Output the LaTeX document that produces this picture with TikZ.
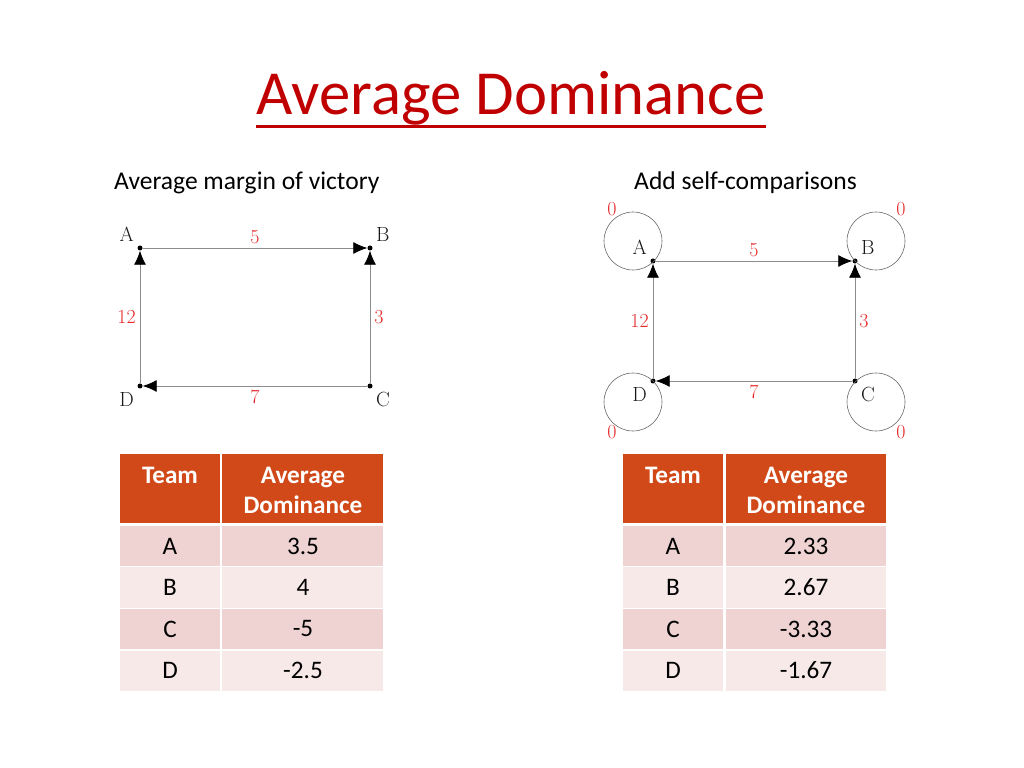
\documentclass[tikz,border=0pt]{standalone}
\usepackage{fontspec}
\newfontfamily\slidefont{Carlito}
\usetikzlibrary{arrows.meta,positioning,calc}
\definecolor{slidered}{RGB}{192,0,0}
\definecolor{hdrorange}{RGB}{209,73,24}
\definecolor{rowdark}{RGB}{239,211,211}
\definecolor{rowlight}{RGB}{246,233,232}
\definecolor{wtred}{RGB}{230,40,40}
\definecolor{edgegray}{RGB}{140,140,140}

\begin{document}
\begin{tikzpicture}[x=0.03cm, y=-0.03cm,
    title/.style={font=\slidefont\fontsize{53.5}{60}\selectfont, text=slidered, inner sep=0pt},
    sub/.style={font=\slidefont\fontsize{21.8}{24}\selectfont, inner sep=0pt, anchor=west},
    vtx/.style={circle, fill=black, inner sep=0pt, minimum size=0.15cm},
    vlbl/.style={font=\fontsize{17.5}{17.5}\selectfont, text=black!90},
    wlbl/.style={font=\fontsize{17}{17}\selectfont, text=wtred},
    edge/.style={draw=edgegray, line width=0.7pt, -{Latex[length=0.42cm,width=0.36cm,color=black]}},
    selfloop/.style={draw=black!60, line width=0.5pt},
    hdr/.style={font=\slidefont\bfseries\fontsize{21.5}{25.5}\selectfont, text=white, align=center},
    cell/.style={font=\slidefont\fontsize{21.5}{26}\selectfont}
  ]
  \useasboundingbox (0,0) rectangle (1024,768);

  % Title and subtitles
  \node[title] (ttl) at (511,98) {Average Dominance};
  \draw[slidered, line width=0.09cm] ($(ttl.south west)+(0,1)$) -- ($(ttl.south east)+(0,1)$);
  \node[sub] (subL) at (114,183) {Average margin of victory};
  \node[sub] (subR) at (634,183) {Add self-comparisons};

  % Left graph
  \node[vtx, label={[vlbl]135:A}] (lA) at (140,248) {};
  \node[vtx, label={[vlbl]45:B}]  (lB) at (370,248) {};
  \node[vtx, label={[vlbl]-45:C}] (lC) at (370,386) {};
  \node[vtx, label={[vlbl]225:D}] (lD) at (140,386) {};
  \draw[edge] (lA) -- node[wlbl, above] {5} (lB);
  \draw[edge] (lC) -- node[wlbl, right] {3} (lB);
  \draw[edge] (lD) -- node[wlbl, left] {12} (lA);
  \draw[edge] (lC) -- node[wlbl, below] {7} (lD);

  % Right graph with self-comparisons
  \node[vtx, label={[vlbl]135:A}] (rA) at (653,261) {};
  \node[vtx, label={[vlbl]45:B}]  (rB) at (855,261) {};
  \node[vtx, label={[vlbl]-45:C}] (rC) at (855,381) {};
  \node[vtx, label={[vlbl]225:D}] (rD) at (653,381) {};
  \draw[edge] (rA) -- node[wlbl, above] {5} (rB);
  \draw[edge] (rC) -- node[wlbl, right] {3} (rB);
  \draw[edge] (rD) -- node[wlbl, left] {12} (rA);
  \draw[edge] (rC) -- node[wlbl, below] {7} (rD);
  \draw[selfloop] ($(rA)+(-20,-20)$) circle[radius=0.87cm];
  \draw[selfloop] ($(rB)+(21,-20)$) circle[radius=0.87cm];
  \draw[selfloop] ($(rC)+(21,21)$) circle[radius=0.87cm];
  \draw[selfloop] ($(rD)+(-20,21)$) circle[radius=0.87cm];
  \node[wlbl] (zA) at ($(rA)+(-41,-52)$) {0};
  \node[wlbl] (zB) at ($(rB)+(46,-52)$) {0};
  \node[wlbl] (zC) at ($(rC)+(46,51)$) {0};
  \node[wlbl] (zD) at ($(rD)+(-41,51)$) {0};

  % Left table
  \fill[hdrorange] (120,454) rectangle (220,523);
  \fill[hdrorange] (222,454) rectangle (383,523);
  \node[hdr] (lhT) at (170,475) {Team};
  \node[hdr] (lhD) at (303,490) {Average\\Dominance};
  \foreach \t/\v/\c [count=\i] in {A/3.5/rowdark, B/4/rowlight, C/-5/rowdark, D/-2.5/rowlight} {
    \pgfmathsetmacro\ytop{526+41.5*(\i-1)}
    \fill[\c] (120,\ytop) rectangle (220,{\ytop+40});
    \fill[\c] (222,\ytop) rectangle (383,{\ytop+40});
    \node[cell] (lt\i) at (170,{\ytop+20}) {\t};
    \node[cell] (lv\i) at (303,{\ytop+20}) {\v};
  }

  % Right table
  \fill[hdrorange] (623,454) rectangle (723,523);
  \fill[hdrorange] (726,454) rectangle (886,523);
  \node[hdr] (rhT) at (673,475) {Team};
  \node[hdr] (rhD) at (806,490) {Average\\Dominance};
  \foreach \t/\v/\c [count=\i] in {A/2.33/rowdark, B/2.67/rowlight, C/-3.33/rowdark, D/-1.67/rowlight} {
    \pgfmathsetmacro\ytop{526+41.5*(\i-1)}
    \fill[\c] (623,\ytop) rectangle (723,{\ytop+40});
    \fill[\c] (726,\ytop) rectangle (886,{\ytop+40});
    \node[cell] (rt\i) at (673,{\ytop+20}) {\t};
    \node[cell] (rv\i) at (806,{\ytop+20}) {\v};
  }
\end{tikzpicture}
\end{document}
